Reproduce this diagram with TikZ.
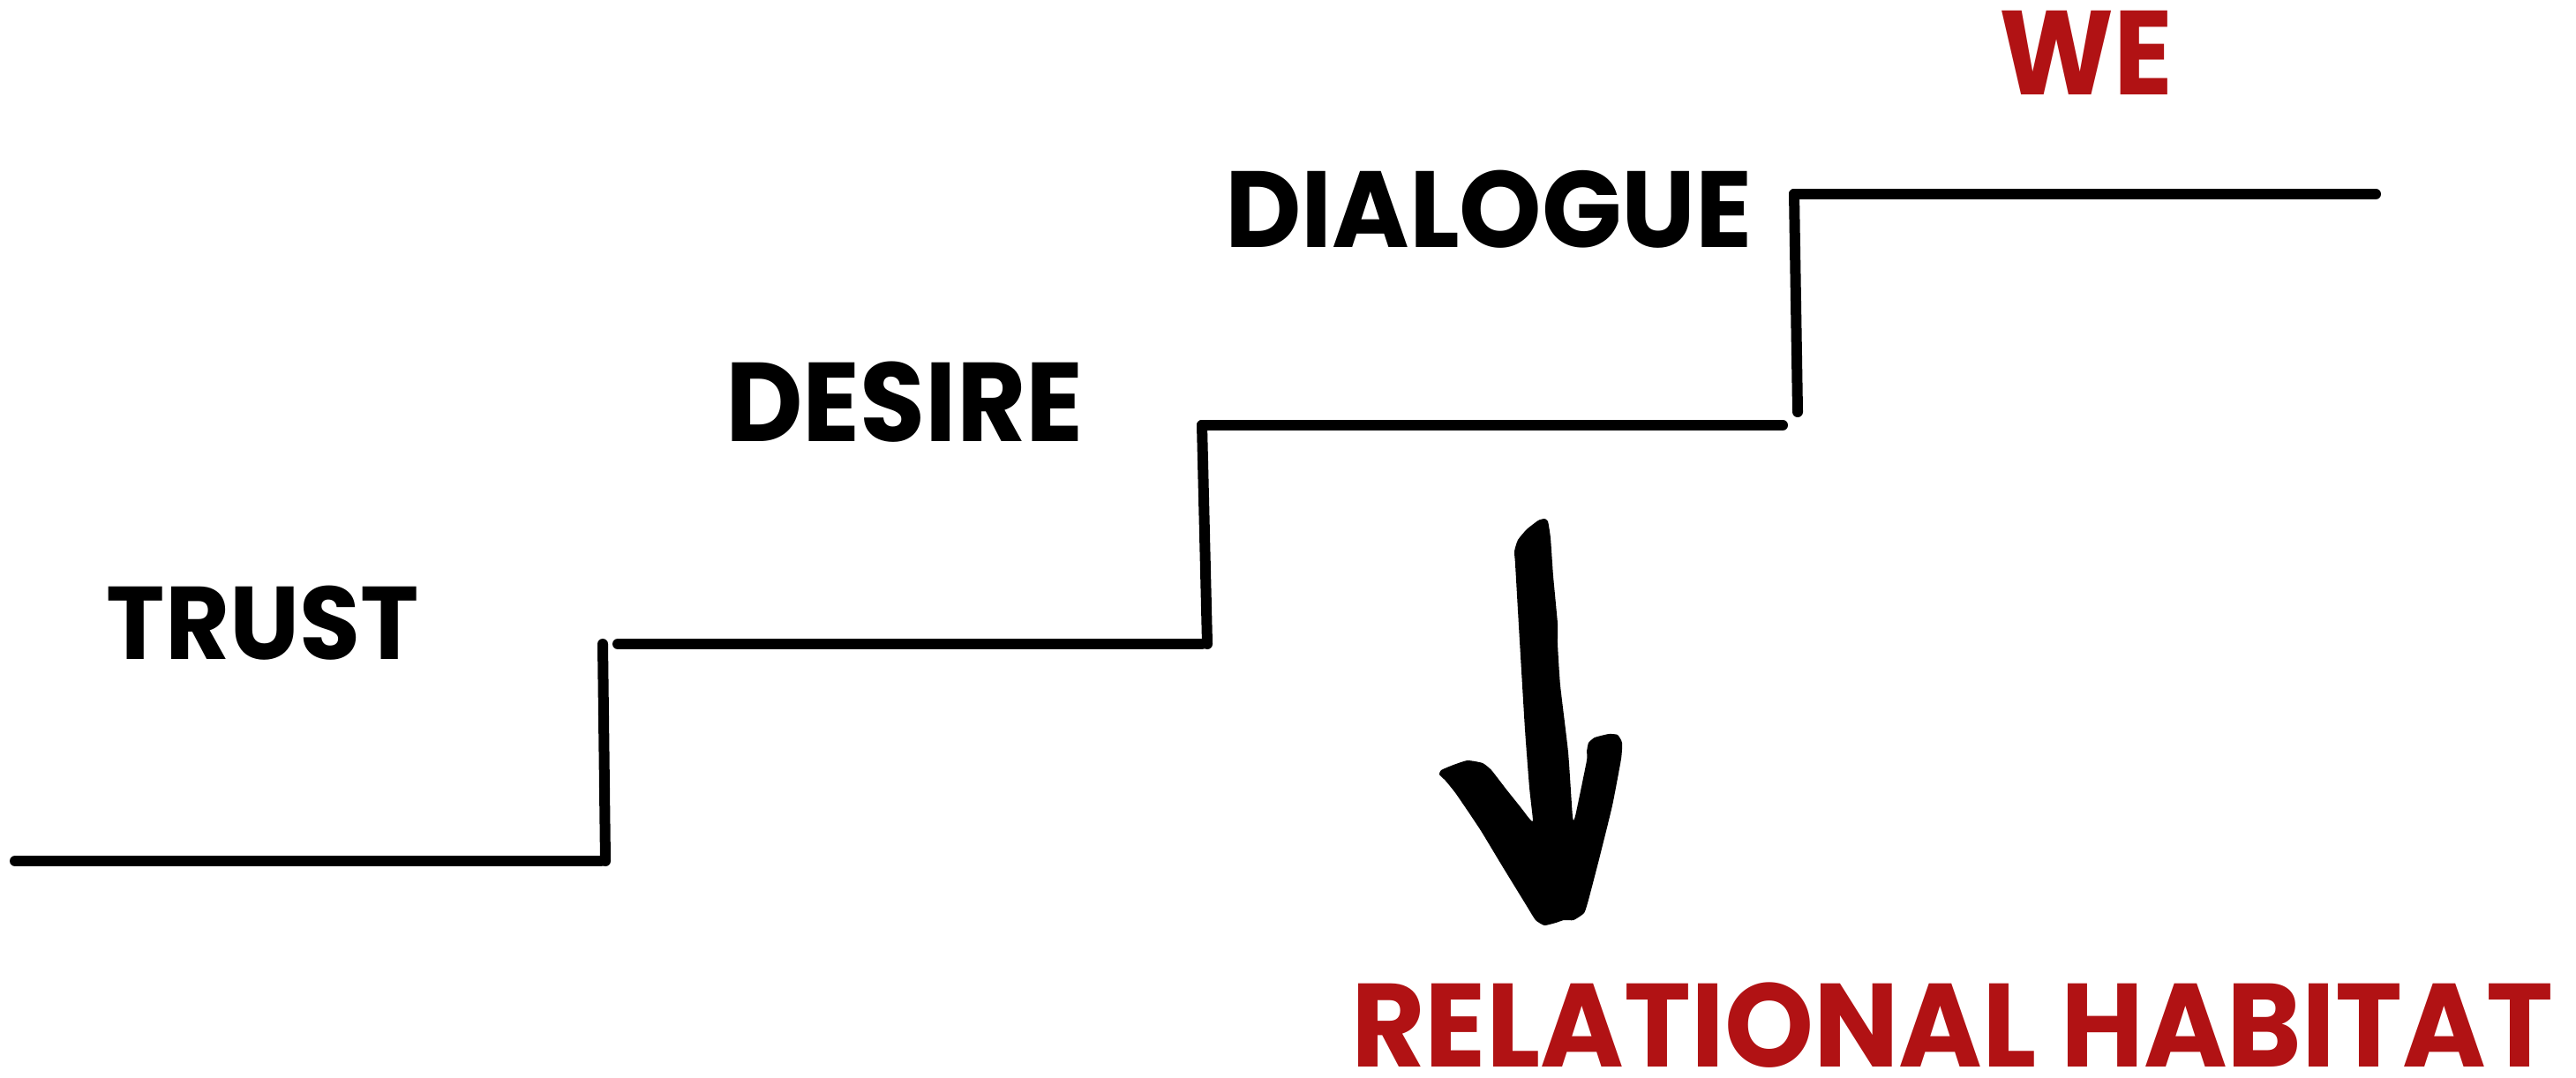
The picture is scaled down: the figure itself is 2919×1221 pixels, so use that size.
\documentclass[tikz,border=0pt]{standalone}
\usepackage{fontspec}
\usepackage{graphicx}
\newfontfamily\pop{Poppins}
\definecolor{habred}{HTML}{B11214}
\newsavebox\fitbox
\newcommand\fitw[2]{\sbox\fitbox{#2}\scalebox{\fpeval{(#1)/(\the\wd\fitbox)}}[1]{\usebox\fitbox}}
\begin{document}
\begin{tikzpicture}[x=0.25pt,y=-0.25pt,
  stepline/.style={line width=3pt,line cap=round,line join=round,black},
  lbl/.style={anchor=base west,inner sep=0pt,outer sep=0pt},
  redlbl/.style={lbl,text=habred}]
\useasboundingbox[fill=white] (0,0) rectangle (2919,1221);
% step coordinates
\coordinate (a0) at (17,976);
\coordinate (a1) at (681,976);
\coordinate (v1t) at (683,730);
\coordinate (v1b) at (686,976);
\coordinate (b0) at (700,730);
\coordinate (b1) at (1362,730);
\coordinate (v2t) at (1362,482);
\coordinate (v2b) at (1368,730);
\coordinate (c0) at (1362,482);
\coordinate (c1) at (2020,482);
\coordinate (v3t) at (2033,220);
\coordinate (v3b) at (2037,467);
\coordinate (d0) at (2033,220);
\coordinate (d1) at (2692,220);
\draw[stepline] (a0) -- (a1);
\draw[stepline] (v1t) -- (v1b);
\draw[stepline] (b0) -- (b1);
\draw[stepline] (v2t) -- (v2b);
\draw[stepline] (c0) -- (c1);
\draw[stepline] (v3t) -- (v3b);
\draw[stepline] (d0) -- (d1);
% labels
\node[lbl] (trust) at (121,747) {\fitw{88.5pt}{\pop\bfseries\fontsize{29.3}{35}\selectfont TRUST}};
\node[lbl] (desire) at (822,500) {\fitw{101.5pt}{\pop\bfseries\fontsize{31.8}{38}\selectfont DESIRE}};
\node[lbl] (dialogue) at (1388,280) {\fitw{149.5pt}{\pop\bfseries\fontsize{30.7}{37}\selectfont DIALOGUE}};
\node[redlbl] (we) at (2265,107) {\fitw{49.25pt}{\pop\bfseries\fontsize{33.9}{40}\selectfont WE}};
\node[redlbl] (habitat) at (1531,1209) {\fitw{340.5pt}{\pop\bfseries\fontsize{33.6}{40}\selectfont RELATIONAL HABITAT}};
% hand-drawn arrow
\fill[black] plot[smooth cycle,tension=0.3] coordinates {
(1750,588) (1743,590) (1730,600) (1720,612) (1716,625) (1717,640) (1722,727)
(1728,827) (1733,893) (1737,930) (1733,928) (1723,915) (1707,895) (1690,873)
(1680,865) (1663,862) (1647,867) (1633,873) (1631,878) (1638,885) (1650,900)
(1677,940) (1703,983) (1730,1027) (1740,1043) (1750,1049) (1763,1046) (1772,1043)
(1783,1043) (1795,1035) (1800,1020) (1813,970) (1827,913) (1837,860) (1838,842)
(1833,833) (1823,832) (1807,836) (1800,842) (1798,852) (1798,862) (1785,925)
(1782,926) (1777,853) (1768,777) (1765,730) (1765,707) (1760,653) (1757,610)
(1754,591)};
\end{tikzpicture}
\end{document}
